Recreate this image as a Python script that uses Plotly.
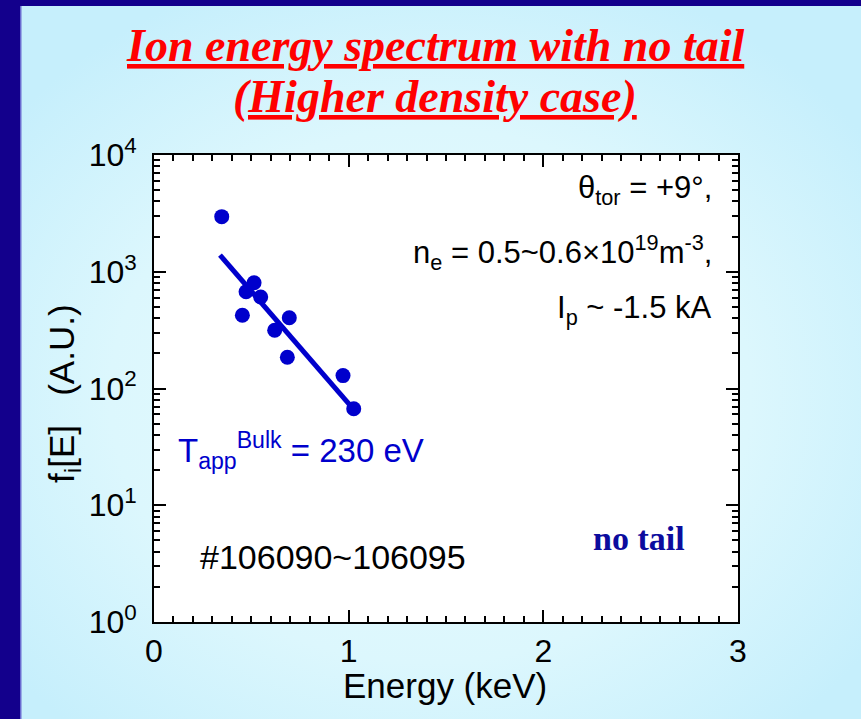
import base64
import plotly.graph_objects as go

# ---------------- data ----------------
energy_keV = [0.348, 0.454, 0.473, 0.514, 0.548, 0.620, 0.685, 0.695, 0.971, 1.026]
flux_au = [2965, 424, 675, 805, 608, 315, 185, 404, 129, 67]
fit_energy_keV = [0.339, 1.010]
fit_flux_au = [1390, 71]
y_tick_vals = [1, 10, 100, 1000, 10000]
y_tick_text = ["10<sup>0</sup>&nbsp;", "10<sup>1</sup>&nbsp;", "10<sup>2</sup>&nbsp;",
               "10<sup>3</sup>&nbsp;", "10<sup>4</sup>&nbsp;"]
x_tick_vals = [0, 1, 2, 3]
x_tick_text = ["0", "1", "2", "3"]

# ---------------- geometry helpers ----------------
W, H = 861, 719
L, R, T, B = 154, 738, 155, 622
PW, PH = R - L, B - T


def px(x):
    return (x - L) / PW


def py(y):
    return (B - y) / PH


SANS = "Liberation Sans, Arial, sans-serif"
SERIF = "Liberation Serif, Times New Roman, serif"
BLUE = "#0000cc"

svg = f'''<svg xmlns="http://www.w3.org/2000/svg" width="{W}" height="{H}" viewBox="0 0 {W} {H}" preserveAspectRatio="none">
<defs><radialGradient id="g" cx="0.5" cy="0.55" r="0.62">
<stop offset="0" stop-color="#e8fbfd"/><stop offset="0.6" stop-color="#dcf7fd"/><stop offset="1" stop-color="#c6effc"/>
</radialGradient></defs>
<rect width="{W}" height="{H}" fill="url(#g)"/>
<rect x="0" y="0" width="{W}" height="6" fill="#13008c"/>
<rect x="0" y="0" width="20" height="{H}" fill="#13008c"/>
<rect x="20" y="6" width="1.5" height="{H}" fill="#6a6ad0"/>
</svg>'''
bg_uri = "data:image/svg+xml;base64," + base64.b64encode(svg.encode()).decode()

fig = go.Figure()
fig.add_trace(go.Scatter(
    x=fit_energy_keV, y=fit_flux_au, mode="lines",
    line=dict(color=BLUE, width=5), hoverinfo="skip", showlegend=False))
fig.add_trace(go.Scatter(
    x=energy_keV, y=flux_au, mode="markers",
    marker=dict(color=BLUE, size=15, line=dict(width=0)), showlegend=False))

annotations = [
    dict(x=px(434.5), y=py(45), text="Ion energy spectrum with no tail",
         font=dict(family=SERIF, size=46, color="#ff0000", weight="bold", style="italic", lineposition="under"),
         xanchor="center", yanchor="middle"),
    dict(x=px(434.5), y=py(97), text="(Higher density case)",
         font=dict(family=SERIF, size=46, color="#ff0000", weight="bold", style="italic", lineposition="under"),
         xanchor="center", yanchor="middle"),
    dict(x=px(64), y=py(394), text="f<sub>i</sub>[E]   (A.U.)", textangle=-90,
         font=dict(family=SANS, size=35, color="black"), xanchor="center", yanchor="middle"),
    dict(x=px(445), y=py(685), text="Energy (keV)",
         font=dict(family=SANS, size=35, color="black"), xanchor="center", yanchor="middle"),
    dict(x=px(714), y=py(190), text="θ<sub>tor</sub> = +9°,",
         font=dict(family=SANS, size=31, color="black"), xanchor="right", yanchor="middle"),
    dict(x=px(714), y=py(252), text="n<sub>e</sub> = 0.5~0.6×10<sup>19</sup>m<sup>-3</sup>,",
         font=dict(family=SANS, size=31, color="black"), xanchor="right", yanchor="middle"),
    dict(x=px(714), y=py(310), text="I<sub>p</sub> ~ -1.5 kA",
         font=dict(family=SANS, size=31, color="black"), xanchor="right", yanchor="middle"),
    dict(x=px(176), y=py(450), text="T<sub>app</sub><sup>Bulk</sup> = 230 eV",
         font=dict(family=SANS, size=33, color=BLUE), xanchor="left", yanchor="middle"),
    dict(x=px(333), y=py(557), text="#106090~106095",
         font=dict(family=SANS, size=34, color="black"), xanchor="center", yanchor="middle"),
    dict(x=px(639), y=py(538), text="no tail",
         font=dict(family=SERIF, size=34, color="#0c0c9e", weight="bold"), xanchor="center", yanchor="middle"),
]
for a in annotations:
    a.update(xref="paper", yref="paper", showarrow=False)

fig.update_layout(
    width=W, height=H,
    margin=dict(l=L, r=W - R, t=T, b=H - B, pad=0),
    paper_bgcolor="#d6f5fd",
    plot_bgcolor="white",
    annotations=annotations,
    images=[dict(source=bg_uri, xref="paper", yref="paper",
                 x=-L / PW, y=B / PH, sizex=W / PW, sizey=H / PH,
                 xanchor="left", yanchor="top", sizing="stretch", layer="below")],
    shapes=[dict(type="rect", xref="paper", yref="paper", x0=0, x1=1, y0=0, y1=1,
                 fillcolor="white", line=dict(width=0), layer="below")],
    font=dict(family=SANS, color="black"),
)
fig.update_xaxes(
    range=[0, 3], tickvals=x_tick_vals, ticktext=x_tick_text,
    showline=True, linecolor="black", linewidth=2, mirror="allticks",
    ticks="inside", ticklen=12, tickwidth=2, tickcolor="black",
    minor=dict(ticks="inside", dtick=0.1, ticklen=6, tickwidth=2, tickcolor="black"),
    showgrid=False, zeroline=False,
    tickfont=dict(family=SANS, size=32, color="black"),
)
fig.update_yaxes(
    type="log", range=[0, 4], tickvals=y_tick_vals, ticktext=y_tick_text,
    showline=True, linecolor="black", linewidth=2, mirror="allticks",
    ticks="inside", ticklen=12, tickwidth=2, tickcolor="black",
    minor=dict(ticks="inside", dtick="D1", ticklen=6, tickwidth=2, tickcolor="black"),
    showgrid=False, zeroline=False,
    tickfont=dict(family=SANS, size=32, color="black"),
)

fig.write_html("out.html")
